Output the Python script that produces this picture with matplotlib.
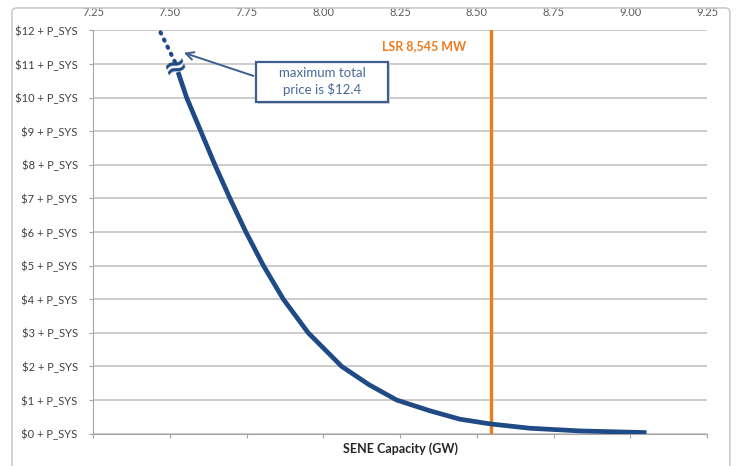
import matplotlib.pyplot as plt
from matplotlib.patches import FancyBboxPatch, Rectangle

plt.rcParams['font.family'] = ['Lato', 'DejaVu Sans']

# SENE capacity (GW) and price above P_SYS ($)
cap = [7.527, 7.555, 7.601, 7.647, 7.696, 7.748, 7.805, 7.870, 7.951, 8.060,
       8.150, 8.239, 8.347, 8.445, 8.543, 8.673, 8.836, 9.053]
price = [10.76, 10, 9, 8, 7, 6, 5, 4, 3, 2,
         1.45, 1.0, 0.68, 0.43, 0.29, 0.16, 0.08, 0.03]
# dotted part above the axis break
cap_dot = [7.470, 7.520]
price_dot = [11.94, 11.0]

lsr = 8.545
xticks = [7.25, 7.50, 7.75, 8.00, 8.25, 8.50, 8.75, 9.00, 9.25]
yticks = list(range(0, 13))
ylabels = ['$%d + P_SYS' % v for v in yticks]

navy = '#1f4a86'
orange = '#f07a1e'
grey = '#595959'

fig = plt.figure(figsize=(7.37, 4.66), dpi=100)
ax = fig.add_axes([0.1262, 0.0695, 0.8331, 0.8653])

# outer frame
fig.patches.append(FancyBboxPatch((0.0163, -0.02), 0.974, 1.003, boxstyle='round,pad=0,rounding_size=0.008',
                                  transform=fig.transFigure, fill=False, edgecolor='#cccccc', lw=1.2))

ax.plot(cap, price, color=navy, lw=3.4, solid_capstyle='butt', solid_joinstyle='round', zorder=3)
ax.plot(cap_dot, price_dot, color=navy, lw=3, linestyle=(0, (0.3, 1.6)), dash_capstyle='round', zorder=3)
# axis-break squiggle
ax.text(7.519, 10.92, '≈', color=navy, fontsize=21, fontweight='bold', rotation=20,
        ha='center', va='center', family='DejaVu Sans', zorder=4)

ax.axvline(lsr, color=orange, lw=2.4, zorder=2)
ax.annotate('LSR 8,545 MW', xy=(lsr, 11.53), xytext=(-24, 0), textcoords='offset pixels',
            ha='right', va='center', color=orange, fontsize=9, fontweight='bold')

# callout box (with a faint shadow)
ax.add_patch(Rectangle((0.2685, 0.817), 0.2148, 0.099, transform=ax.transAxes,
                       facecolor='#d9d9d9', edgecolor='none', zorder=4))
ax.add_patch(Rectangle((0.2655, 0.823), 0.2148, 0.099, transform=ax.transAxes, fill=True,
                       facecolor='white', edgecolor='#3d5f8f', lw=1.6, zorder=5))
ax.text(0.373, 0.8725, 'maximum total\nprice is $12.4', transform=ax.transAxes, ha='center', va='center',
        color='#4a6a9a', fontsize=9.5, linespacing=1.35, zorder=6)
ax.annotate('', xy=(7.537, 11.36), xytext=(0.2655, 0.885), textcoords='axes fraction',
            arrowprops=dict(arrowstyle='->', color='#3d5f8f', lw=1.4, mutation_scale=14), zorder=5)

ax.set_xlim(7.25, 9.25)
ax.set_ylim(0, 12)
ax.set_xticks(xticks)
ax.set_xticklabels(['%.2f' % v for v in xticks])
ax.set_yticks(yticks)
ax.set_yticklabels(ylabels)

ax.tick_params(axis='x', bottom=True, top=False, labelbottom=False, labeltop=True,
               direction='out', length=3, color='#a6a6a6', labelcolor=grey, labelsize=8, pad=6)
ax.tick_params(axis='y', length=3, color='#a6a6a6', labelcolor='#404040', labelsize=8, pad=8)

ax.grid(axis='y', color='#bfbfbf', lw=1.1)
ax.set_axisbelow(True)
for s in ['top', 'right']:
    ax.spines[s].set_visible(False)
for s in ['left', 'bottom']:
    ax.spines[s].set_color('#a6a6a6')

ax.set_xlabel('SENE Capacity (GW)', fontsize=9, fontweight='bold', color='#262626', labelpad=3)

fig.savefig('out.png', dpi=100)
